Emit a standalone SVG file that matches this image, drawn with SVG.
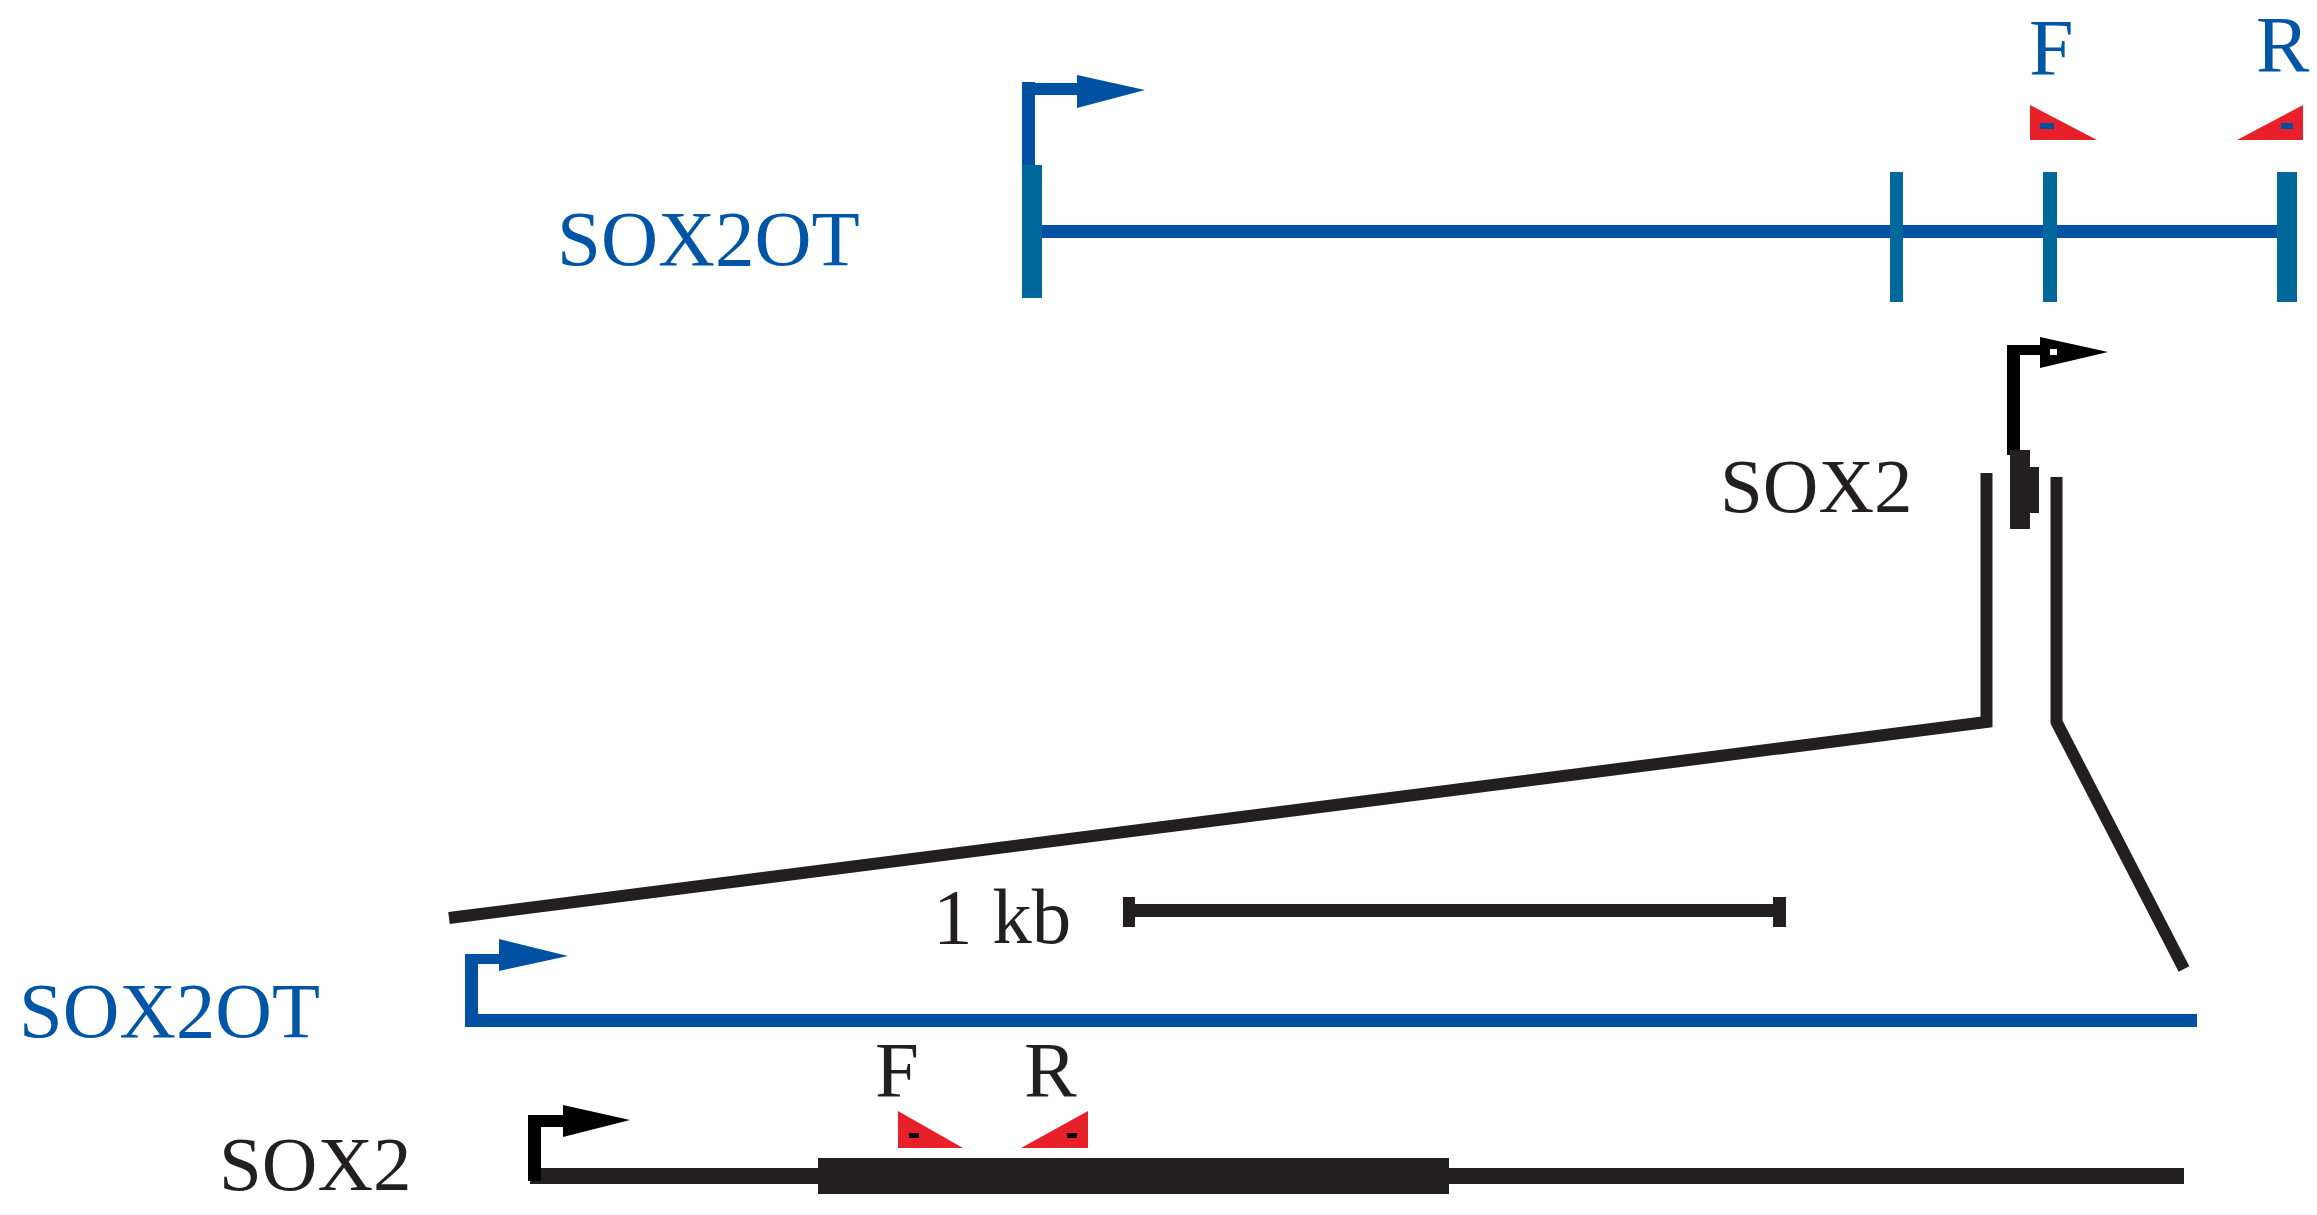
<svg xmlns="http://www.w3.org/2000/svg" width="2317" height="1215" viewBox="0 0 2317 1215">
<style>
.lbl{font-family:"Liberation Serif","Times New Roman",serif;}
.blue{fill:#0055A6;}
.blk{fill:#231F20;}
.bline{fill:#0051A2;}
.teal{fill:#00689B;}
.red{fill:#E8202A;}
.conn{fill:none;stroke:#231F20;stroke-width:12;stroke-linejoin:miter;}
</style>
<rect width="2317" height="1215" fill="#fff"/>

<g id="sox2ot-top">
  <text class="lbl blue" x="557" y="265" font-size="79">SOX2OT</text>
  <rect class="bline" x="1042" y="225" width="1235" height="13"/>
  <rect class="bline" x="1022" y="82" width="13" height="110"/>
  <rect class="bline" x="1022" y="83" width="57" height="12"/>
  <polygon class="bline" points="1077,75 1077,108 1145,90"/>
  <rect class="teal" x="1022" y="165" width="20" height="133"/>
  <rect class="teal" x="1890" y="172" width="13" height="130"/>
  <rect class="teal" x="2043" y="172" width="14" height="130"/>
  <rect class="teal" x="2277" y="172" width="20" height="130"/>
</g>

<g id="primers-top">
  <text class="lbl blue" x="2029" y="75" font-size="80">F</text>
  <text class="lbl blue" x="2256" y="72" font-size="80">R</text>
  <polygon class="red" points="2030,105 2030,140 2097,140"/>
  <rect class="bline" x="2040" y="123" width="14" height="6"/>
  <polygon class="red" points="2303,105 2303,140 2237,140"/>
  <rect class="bline" x="2281" y="123" width="12" height="6"/>
</g>

<g id="sox2-top">
  <text class="lbl blk" x="1720" y="512" font-size="77">SOX2</text>
  <rect fill="#000" x="2007" y="345" width="13" height="110"/>
  <rect fill="#000" x="2007" y="345" width="35" height="10"/>
  <polygon fill="#000" points="2040,337 2040,368 2108,352"/>
  <rect fill="#fff" x="2050" y="349" width="7" height="6"/>
  <rect class="blk" x="2010" y="450" width="20" height="79"/>
  <rect class="blk" x="2010" y="467" width="29" height="46"/>
</g>

<g id="connectors">
  <polyline class="conn" points="1986.5,473 1986.5,722 449,918"/>
  <polyline class="conn" points="2056.5,477 2056.5,722 2184,969"/>
</g>

<g id="scale-bar">
  <text class="lbl blk" x="933" y="943" font-size="79">1 kb</text>
  <rect class="blk" x="1123" y="904" width="663" height="13"/>
  <rect class="blk" x="1123" y="897" width="12" height="30"/>
  <rect class="blk" x="1773" y="897" width="13" height="30"/>
</g>

<g id="sox2ot-bottom">
  <text class="lbl blue" x="19" y="1037" font-size="78.5">SOX2OT</text>
  <rect class="bline" x="465" y="1014" width="1732" height="13"/>
  <rect class="bline" x="465" y="954" width="13" height="70"/>
  <rect class="bline" x="465" y="954" width="36" height="10"/>
  <polygon class="bline" points="499,939 499,971 568,956"/>
</g>

<g id="primers-bottom">
  <text class="lbl blk" x="875" y="1096" font-size="79">F</text>
  <text class="lbl blk" x="1024" y="1096" font-size="79">R</text>
  <polygon class="red" points="898,1111 898,1148 963,1148"/>
  <rect fill="#000" x="909" y="1133" width="10" height="5"/>
  <polygon class="red" points="1088,1111 1088,1148 1021,1148"/>
  <rect fill="#000" x="1067" y="1133" width="10" height="5"/>
</g>

<g id="sox2-bottom">
  <text class="lbl blk" x="219" y="1190" font-size="77">SOX2</text>
  <rect class="blk" x="530" y="1168" width="1654" height="16"/>
  <rect class="blk" x="818" y="1158" width="631" height="36"/>
  <rect fill="#000" x="528" y="1115" width="13" height="66"/>
  <rect fill="#000" x="528" y="1115" width="37" height="12"/>
  <polygon fill="#000" points="563,1105 563,1137 630,1120"/>
</g>
</svg>
